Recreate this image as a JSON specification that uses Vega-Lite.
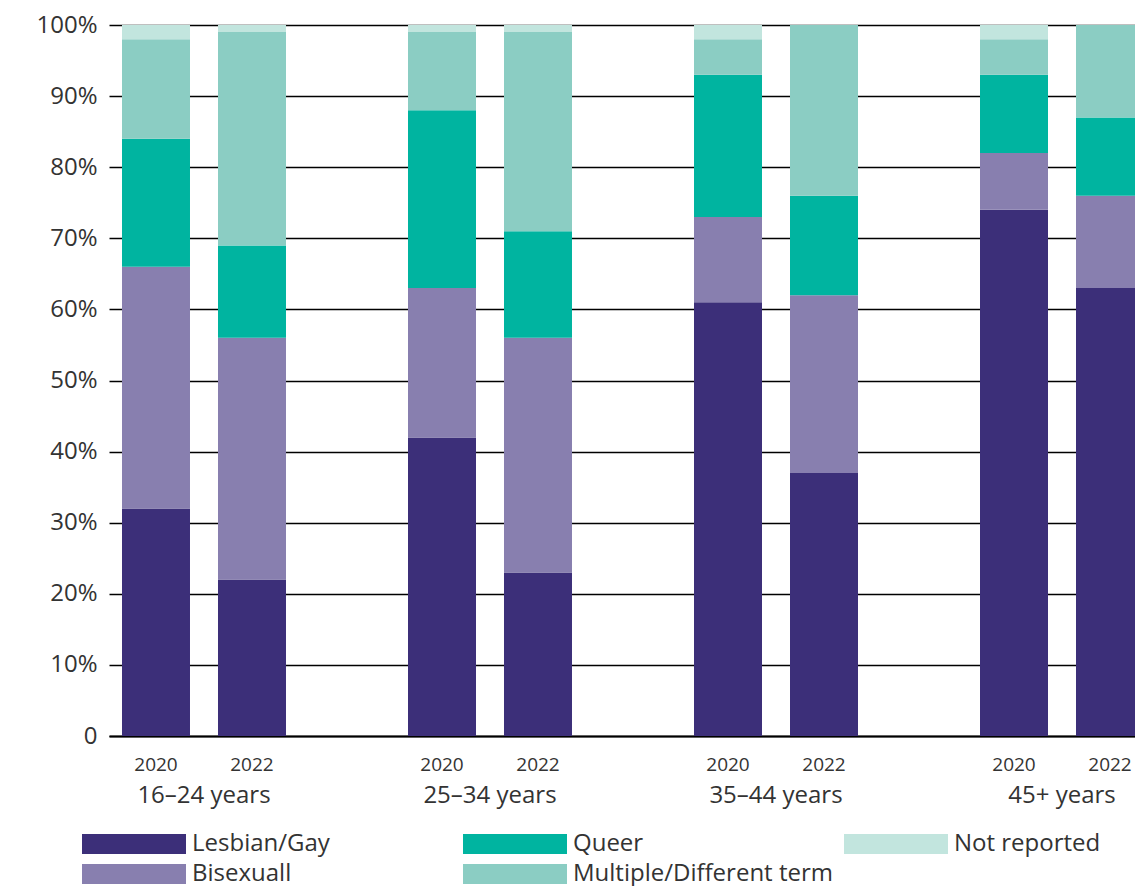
{
  "$schema": "https://vega.github.io/schema/vega-lite/v6.json",
  "autosize": {"type": "none"},
  "padding": {"left": 109, "top": 25, "right": 0, "bottom": 150},
  "width": 1026,
  "height": 711,
  "config": {
    "view": {"stroke": null},
    "font": "Open Sans",
    "text": {"font": "Open Sans"}
  },
  "datasets": {
    "shares": [
      {"age": "16–24 years", "year": "2020", "identity": "Lesbian/Gay", "value": 32},
      {"age": "16–24 years", "year": "2020", "identity": "Bisexuall", "value": 34},
      {"age": "16–24 years", "year": "2020", "identity": "Queer", "value": 18},
      {"age": "16–24 years", "year": "2020", "identity": "Multiple/Different term", "value": 14},
      {"age": "16–24 years", "year": "2020", "identity": "Not reported", "value": 2},
      {"age": "16–24 years", "year": "2022", "identity": "Lesbian/Gay", "value": 22},
      {"age": "16–24 years", "year": "2022", "identity": "Bisexuall", "value": 34},
      {"age": "16–24 years", "year": "2022", "identity": "Queer", "value": 13},
      {"age": "16–24 years", "year": "2022", "identity": "Multiple/Different term", "value": 30},
      {"age": "16–24 years", "year": "2022", "identity": "Not reported", "value": 1},
      {"age": "25–34 years", "year": "2020", "identity": "Lesbian/Gay", "value": 42},
      {"age": "25–34 years", "year": "2020", "identity": "Bisexuall", "value": 21},
      {"age": "25–34 years", "year": "2020", "identity": "Queer", "value": 25},
      {"age": "25–34 years", "year": "2020", "identity": "Multiple/Different term", "value": 11},
      {"age": "25–34 years", "year": "2020", "identity": "Not reported", "value": 1},
      {"age": "25–34 years", "year": "2022", "identity": "Lesbian/Gay", "value": 23},
      {"age": "25–34 years", "year": "2022", "identity": "Bisexuall", "value": 33},
      {"age": "25–34 years", "year": "2022", "identity": "Queer", "value": 15},
      {"age": "25–34 years", "year": "2022", "identity": "Multiple/Different term", "value": 28},
      {"age": "25–34 years", "year": "2022", "identity": "Not reported", "value": 1},
      {"age": "35–44 years", "year": "2020", "identity": "Lesbian/Gay", "value": 61},
      {"age": "35–44 years", "year": "2020", "identity": "Bisexuall", "value": 12},
      {"age": "35–44 years", "year": "2020", "identity": "Queer", "value": 20},
      {"age": "35–44 years", "year": "2020", "identity": "Multiple/Different term", "value": 5},
      {"age": "35–44 years", "year": "2020", "identity": "Not reported", "value": 2},
      {"age": "35–44 years", "year": "2022", "identity": "Lesbian/Gay", "value": 37},
      {"age": "35–44 years", "year": "2022", "identity": "Bisexuall", "value": 25},
      {"age": "35–44 years", "year": "2022", "identity": "Queer", "value": 14},
      {"age": "35–44 years", "year": "2022", "identity": "Multiple/Different term", "value": 24},
      {"age": "35–44 years", "year": "2022", "identity": "Not reported", "value": 0},
      {"age": "45+ years", "year": "2020", "identity": "Lesbian/Gay", "value": 74},
      {"age": "45+ years", "year": "2020", "identity": "Bisexuall", "value": 8},
      {"age": "45+ years", "year": "2020", "identity": "Queer", "value": 11},
      {"age": "45+ years", "year": "2020", "identity": "Multiple/Different term", "value": 5},
      {"age": "45+ years", "year": "2020", "identity": "Not reported", "value": 2},
      {"age": "45+ years", "year": "2022", "identity": "Lesbian/Gay", "value": 63},
      {"age": "45+ years", "year": "2022", "identity": "Bisexuall", "value": 13},
      {"age": "45+ years", "year": "2022", "identity": "Queer", "value": 11},
      {"age": "45+ years", "year": "2022", "identity": "Multiple/Different term", "value": 13},
      {"age": "45+ years", "year": "2022", "identity": "Not reported", "value": 0}
    ],
    "years": [
      {"age": "16–24 years", "year": "2020"},
      {"age": "16–24 years", "year": "2022"},
      {"age": "25–34 years", "year": "2020"},
      {"age": "25–34 years", "year": "2022"},
      {"age": "35–44 years", "year": "2020"},
      {"age": "35–44 years", "year": "2022"},
      {"age": "45+ years", "year": "2020"},
      {"age": "45+ years", "year": "2022"}
    ]
  },
  "layer": [
    {
      "data": {"name": "shares"},
      "transform": [
        {"calculate": "indexof(['Lesbian/Gay','Bisexuall','Queer','Multiple/Different term','Not reported'], datum.identity)", "as": "stackOrder"}
      ],
      "mark": {"type": "bar"},
      "encoding": {
        "x": {
          "field": "age",
          "type": "nominal",
          "sort": ["16–24 years", "25–34 years", "35–44 years", "45+ years"],
          "scale": {"range": [0, 1048], "paddingInner": 0.4266, "paddingOuter": 0.04545, "align": 0.5},
          "axis": {
            "title": null,
            "labelAngle": 0,
            "ticks": false,
            "domain": true,
            "domainColor": "#000000",
            "domainWidth": 2,
            "labelFont": "Open Sans",
            "labelFontSize": 24,
            "labelColor": "#333333",
            "labelBaseline": "alphabetic",
            "labelPadding": 66,
            "grid": false
          }
        },
        "xOffset": {
          "field": "year",
          "type": "nominal",
          "sort": ["2020", "2022"],
          "scale": {"paddingInner": 0.2917, "paddingOuter": 0}
        },
        "y": {
          "field": "value",
          "type": "quantitative",
          "stack": "zero",
          "scale": {"domain": [0, 100], "nice": false},
          "axis": {
            "title": null,
            "values": [0, 10, 20, 30, 40, 50, 60, 70, 80, 90, 100],
            "labelExpr": "datum.value === 0 ? '0' : datum.value + '%'",
            "labelFont": "Open Sans",
            "labelFontSize": 24,
            "labelColor": "#333333",
            "labelPadding": 12,
            "ticks": false,
            "domain": false,
            "grid": true,
            "gridColor": "#000000",
            "gridWidth": 1.3
          }
        },
        "color": {
          "field": "identity",
          "type": "nominal",
          "scale": {
            "domain": ["Lesbian/Gay", "Queer", "Not reported", "Bisexuall", "Multiple/Different term"],
            "range": ["#3c2f79", "#00b4a0", "#c2e5de", "#887faf", "#8bcdc3"]
          },
          "legend": {
            "title": null,
            "orient": "none",
            "legendX": 13,
            "legendY": 807,
            "direction": "horizontal",
            "columns": 3,
            "gridAlign": "all",
            "columnPadding": 11,
            "rowPadding": 6,
            "symbolType": "M-5.2,-1H5.2V1H-5.2Z",
            "symbolSize": 400,
            "symbolStrokeWidth": 0,
            "symbolOpacity": 1,
            "labelOffset": 46,
            "labelFont": "Open Sans",
            "labelFontSize": 24,
            "labelColor": "#333333",
            "labelLimit": 400
          }
        },
        "order": {"field": "stackOrder", "type": "quantitative"}
      }
    },
    {
      "data": {"name": "years"},
      "mark": {"type": "text", "baseline": "alphabetic", "dy": 35, "fontSize": 19, "color": "#333333", "font": "Open Sans"},
      "encoding": {
        "x": {"field": "age", "type": "nominal", "sort": ["16–24 years", "25–34 years", "35–44 years", "45+ years"]},
        "xOffset": {"field": "year", "type": "nominal", "sort": ["2020", "2022"]},
        "y": {"datum": 0, "type": "quantitative"},
        "text": {"field": "year"}
      }
    }
  ]
}
